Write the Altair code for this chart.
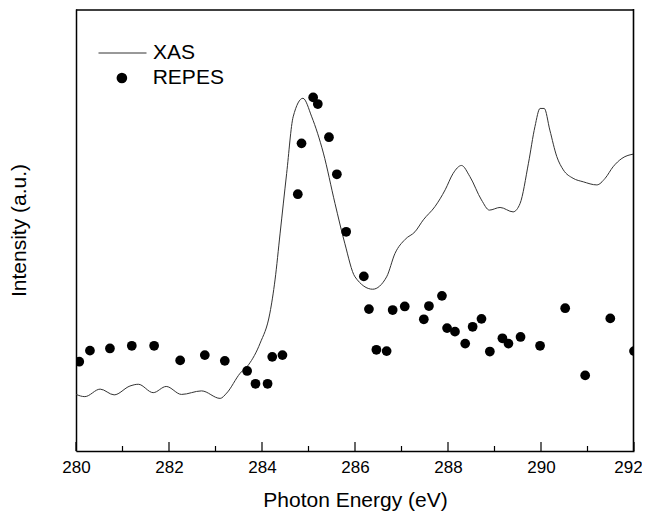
import altair as alt
import pandas as pd

# XAS spectrum (photon energy eV, intensity a.u.)
xas_e = [280.0, 280.19, 280.52, 280.82, 281.16, 281.34, 281.66, 281.94, 282.27, 282.70,
         283.10, 283.24, 283.53, 283.71, 283.96, 284.17, 284.28, 284.39, 284.53, 284.67,
         284.88, 285.07, 285.32, 285.57, 285.78, 286.00, 286.38, 286.68, 286.86, 287.08,
         287.29, 287.47, 287.72, 287.94, 288.11, 288.29, 288.47, 288.72, 288.89, 289.12,
         289.40, 289.55, 289.73, 289.87, 289.98, 290.07, 290.19, 290.34, 290.48, 290.69,
         290.91, 291.20, 291.38, 291.55, 291.74, 292.0]
xas_i = [12.8, 12.3, 14.0, 12.7, 14.7, 15.1, 13.2, 14.6, 12.8, 13.6,
         11.9, 13.1, 17.6, 19.5, 24.4, 31.2, 38.7, 49.3, 62.8, 75.6,
         79.8, 75.6, 67.4, 56.0, 47.0, 39.4, 36.6, 39.4, 44.7, 47.9,
         49.6, 52.3, 55.3, 59.1, 62.8, 64.6, 62.1, 56.8, 54.5, 55.1,
         54.1, 56.0, 65.1, 73.4, 77.5, 77.5, 72.6, 66.6, 63.6, 61.7,
         60.9, 60.2, 61.7, 64.3, 66.2, 67.2]

# REPES points
repes_e = [280.07, 280.30, 280.73, 281.20, 281.68, 282.24, 282.77, 283.20, 283.68, 283.86,
           284.12, 284.22, 284.44, 284.77, 284.85, 285.10, 285.20, 285.44, 285.61, 285.81,
           286.19, 286.30, 286.46, 286.68, 286.81, 287.07, 287.48, 287.59, 287.87, 287.98,
           288.15, 288.37, 288.53, 288.72, 288.90, 289.17, 289.30, 289.56, 289.98, 290.52,
           290.95, 291.49, 292.0]
repes_i = [20.2, 22.7, 23.2, 23.8, 23.8, 20.5, 21.7, 20.4, 18.1, 15.2,
           15.2, 21.3, 21.7, 58.1, 69.6, 80.0, 78.5, 71.0, 62.6, 49.6,
           39.5, 32.1, 22.9, 22.6, 31.9, 32.7, 29.8, 32.8, 35.1, 27.8,
           27.0, 24.3, 28.1, 29.9, 22.5, 25.5, 24.3, 25.8, 23.8, 32.3,
           17.1, 30.0, 22.6]

major_ticks = [280, 282, 284, 286, 288, 290, 292]
minor_ticks = [281, 283, 285, 287, 289, 291]

W, H = 558, 442
FONT = "Liberation Sans"

xas = pd.DataFrame({"E": xas_e, "I": xas_i, "s": "XAS"})
rep = pd.DataFrame({"E": repes_e, "I": repes_i, "t": "REPES"})
maj = pd.DataFrame({"E": major_ticks})
mnr = pd.DataFrame({"E": minor_ticks})
one = pd.DataFrame({"k": [0]})

xscale = alt.Scale(domain=[280, 292], nice=False, zero=False)
yscale = alt.Scale(domain=[0, 100], nice=False, zero=False)

xaxis = alt.Axis(values=major_ticks, format="d", ticks=False, grid=False,
                 title="Photon Energy (eV)", labelFontSize=17, titleFontSize=21,
                 labelPadding=8, titlePadding=14, labelFont=FONT, titleFont=FONT,
                 labelColor="black", titleColor="black", titleFontWeight="normal",
                 domainColor="black", domainWidth=1.5, labelFlush=False,
                 labelOffset={"condition": {"test": "datum.value === 292", "value": -6},
                              "value": 0})
yaxis = alt.Axis(labels=False, ticks=False, grid=False, title="Intensity (a.u.)",
                 titleFontSize=21, titleFont=FONT, titleColor="black",
                 titleFontWeight="normal", titlePadding=47,
                 domainColor="black", domainWidth=1.5)

line = alt.Chart(xas).mark_line(color="#333333", strokeWidth=1, interpolate="monotone").encode(
    x=alt.X("E:Q", scale=xscale, axis=xaxis),
    y=alt.Y("I:Q", scale=yscale, axis=yaxis),
    color=alt.Color("s:N", scale=alt.Scale(domain=["XAS"], range=["#333333"]),
                    legend=alt.Legend(orient="none", legendX=22, legendY=19.5, title=None,
                                      symbolType="stroke", symbolSize=2304,
                                      symbolStrokeWidth=1, labelFontSize=21,
                                      labelFont=FONT, labelColor="black",
                                      labelOffset=6, padding=0)),
)

pts = alt.Chart(rep).mark_point(filled=True, shape="circle", color="black", size=95,
                                opacity=1, clip=True).encode(
    x=alt.X("E:Q", scale=xscale),
    y=alt.Y("I:Q", scale=yscale),
    shape=alt.Shape("t:N", scale=alt.Scale(domain=["REPES"], range=["circle"]),
                    legend=alt.Legend(orient="none", legendX=35.4, legendY=58.5, title=None,
                                      symbolSize=113, symbolFillColor="black",
                                      symbolStrokeColor="black", symbolOpacity=1,
                                      labelFontSize=21, labelFont=FONT,
                                      labelColor="black", labelOffset=20.3, padding=0)),
)

major = alt.Chart(maj).mark_rule(color="black", strokeWidth=1.2).encode(
    x=alt.X("E:Q", scale=xscale), y=alt.value(H), y2=alt.value(H - 9))
minor = alt.Chart(mnr).mark_rule(color="black", strokeWidth=1.2).encode(
    x=alt.X("E:Q", scale=xscale), y=alt.value(H), y2=alt.value(H - 5))

top_border = alt.Chart(one).mark_rule(color="black", strokeWidth=1.6).encode(
    x=alt.value(0), x2=alt.value(W), y=alt.value(1))
right_border = alt.Chart(one).mark_rule(color="black", strokeWidth=1.6).encode(
    x=alt.value(W - 0.5), y=alt.value(0), y2=alt.value(H))

chart = alt.layer(line, pts, major, minor, top_border, right_border).properties(
    width=W, height=H,
    background="white",
    autosize=alt.AutoSizeParams(type="none"),
    padding={"left": 68, "top": 1, "right": 8, "bottom": 61},
).configure_view(stroke=None)

chart.save("out.html", embed_options={"renderer": "svg", "actions": False})
